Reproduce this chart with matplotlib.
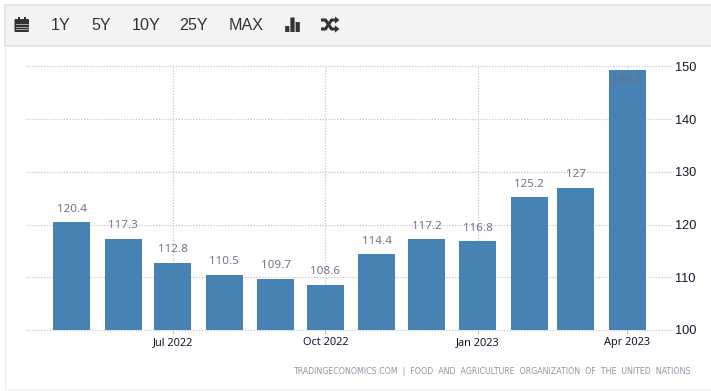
import matplotlib
matplotlib.use("Agg")
import matplotlib.pyplot as plt
import matplotlib.dates as mdates
from matplotlib.patches import Rectangle, FancyBboxPatch
from datetime import datetime

months = ["2022-05","2022-06","2022-07","2022-08","2022-09","2022-10",
          "2022-11","2022-12","2023-01","2023-02","2023-03","2023-04"]
values = [120.4,117.3,112.8,110.5,109.7,108.6,114.4,117.2,116.8,125.2,127,149.4]
value_labels = ["120.4","117.3","112.8","110.5","109.7","108.6","114.4","117.2","116.8","125.2","127","149.4"]
yticks = [100,110,120,130,140,150]
xtick_months = ["2022-07","2022-10","2023-01","2023-04"]
xtick_labels = ["Jul 2022","Oct 2022","Jan 2023","Apr 2023"]
toolbar_labels = ["1Y","5Y","10Y","25Y","MAX"]
source = "TRADINGECONOMICS.COM  |  FOOD  AND  AGRICULTURE  ORGANIZATION  OF  THE  UNITED  NATIONS"

W, H = 711, 391
BLUE = "#4682b4"
GRID = "#c4c4c4"
dates = [mdates.date2num(datetime.strptime(m, "%Y-%m")) for m in months]
xt = [mdates.date2num(datetime.strptime(m, "%Y-%m")) for m in xtick_months]

fig = plt.figure(figsize=(W/100, H/100), dpi=100, facecolor="white")

# pixel-coordinate layer for the page furniture
bg = fig.add_axes([0, 0, 1, 1], zorder=0)
bg.set_xlim(0, W); bg.set_ylim(H, 0); bg.axis("off")
bg.add_patch(Rectangle((4.5, 4.5), W, 41.5, fc="#f3f3f3", ec="#e0e0e0", lw=1.2))
bg.plot([4.5, 4.5], [46, H], color="#f0f0f0", lw=1)
bg.plot([4.5, W], [388.5, 388.5], color="#f2f2f2", lw=1)
for lab, cx in zip(toolbar_labels, [61, 101, 146, 194, 246]):
    bg.text(cx, 26, lab, ha="center", va="center", fontsize=11.6,
            family="Liberation Sans", color="#333333")
ic = "#333333"
# calendar icon
bg.add_patch(FancyBboxPatch((14.5, 19), 14.5, 13, boxstyle="round,pad=0,rounding_size=1", fc=ic, ec="none"))
bg.add_patch(Rectangle((18, 17), 1.8, 3, fc=ic, ec="none"))
bg.add_patch(Rectangle((24, 17), 1.8, 3, fc=ic, ec="none"))
for yy in (24.3, 26.6, 28.9):
    bg.plot([15.5, 28], [yy, yy], color="#bbbbbb", lw=0.6)
# bars icon
for x0, y0 in ((285.2, 26), (290.4, 17.5), (295.6, 22)):
    bg.add_patch(Rectangle((x0, y0), 4.2, 32 - y0, fc=ic, ec="none", lw=0, snap=False))
# shuffle icon
bg.plot([321, 325.5, 331.5, 336], [29, 29, 20, 20], color=ic, lw=2.2, solid_capstyle="butt")
bg.plot([321, 325.5, 331.5, 336], [20, 20, 29, 29], color=ic, lw=2.2, solid_capstyle="butt")
for yy in (20, 29):
    bg.fill([335, 339.5, 335], [yy - 3.6, yy, yy + 3.6], color=ic, lw=0)
bg.text(691, 372, source, ha="right", va="center", fontsize=5.7,
        family="DejaVu Sans", color="#8c96a3")

# chart
left, right, top, bottom = 26, 673, 66.5, 330
ax = fig.add_axes([left/W, 1 - bottom/H, (right-left)/W, (bottom-top)/H], zorder=1)
ax.patch.set_alpha(0)
px_per_day = (627 - 173) / (xt[3] - xt[0])
ax.set_xlim(xt[0] - (173 - left)/px_per_day, xt[0] + (right - 173)/px_per_day)
ax.set_ylim(100, 150)
ax.grid(True, color=GRID, lw=0.9, linestyle=(0, (1, 1.3)), clip_on=False)
ax.set_axisbelow(True)
ax.bar(dates, values, width=37/px_per_day, color=BLUE, zorder=3, linewidth=0)
for s in ax.spines.values():
    s.set_visible(False)
ax.yaxis.tick_right()
ax.set_yticks(yticks)
ax.set_xticks(xt)
ax.set_xticklabels(xtick_labels)
ax.tick_params(axis="y", length=0, pad=1.5, labelsize=9.2, labelcolor="#1c1030")
ax.tick_params(axis="x", length=3, width=0.8, color=GRID, pad=2, labelsize=7.9, labelcolor="#1c1030")
for lab in ax.get_yticklabels():
    lab.set_family("Liberation Sans")
for lab in ax.get_xticklabels():
    lab.set_family("Noto Sans")
for d, v, s in zip(dates, values, value_labels):
    inside = v > 140
    ax.annotate(s, (d, v), xytext=(0, -7.9 if inside else 9.4), textcoords="offset points",
                ha="center", va="center", fontsize=8.4, color="#6a6f78" if inside else "#77708a",
                family="Noto Sans", zorder=4)
fig.savefig("out.png", dpi=100)
